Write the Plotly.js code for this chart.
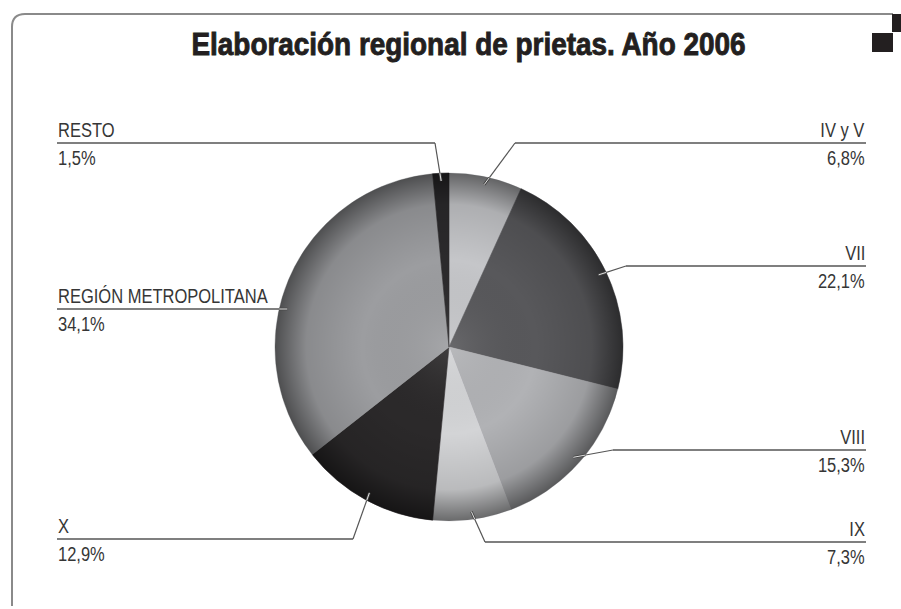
<!DOCTYPE html>
<html>
<head>
<meta charset="utf-8">
<script src="https://cdn.plot.ly/plotly-3.0.1.min.js"></script>
<style>
  html, body { margin: 0; padding: 0; background: #ffffff; }
  #chart { width: 901px; height: 609px; }
</style>
</head>
<body>
<div id="chart"></div>
<script>
// ---- Data ----
const regions = ['IV y V', 'VII', 'VIII', 'IX', 'X', 'REGIÓN METROPOLITANA', 'RESTO'];
const shares = [6.8, 22.1, 15.3, 7.3, 12.9, 34.1, 1.5];
const sliceColors = ['#c5c6c9', '#58585b', '#b1b2b5', '#d3d4d6', '#2b292a', '#9c9da0', '#2b2a2c'];
const titleText = 'Elaboración regional de prietas. Año 2006';

// ---- Layout geometry (pixels) ----
const W = 901, H = 609;
const CX = 449, CY = 347, R = 174;
// label placement: side, y of underline, elbow x (null = straight horizontal to pie)
const labelLayout = [
  { side: 'right', lineY: 143, elbowX: 515 },
  { side: 'right', lineY: 266, elbowX: 626 },
  { side: 'right', lineY: 450, elbowX: 613 },
  { side: 'right', lineY: 542, elbowX: 485 },
  { side: 'left',  lineY: 539, elbowX: 353 },
  { side: 'left',  lineY: 309, elbowX: null },
  { side: 'left',  lineY: 143, elbowX: 435 }
];
const LEFT_X = 57, RIGHT_X = 866;
const LABEL_FONT = 'Liberation Sans, Arial, sans-serif';
const LABEL_SQUEEZE = 0.825;
const TITLE_SQUEEZE = 0.90;

const px = x => x / W;
const py = y => 1 - y / H;

const total = shares.reduce((a, b) => a + b, 0);
const fmt = v => v.toFixed(1).replace('.', ',') + '%';

const shapes = [];
const annotations = [];

// frame
shapes.push({
  type: 'path', xref: 'paper', yref: 'paper',
  path: `M ${px(12)},${py(606)} L ${px(12)},${py(27)} Q ${px(12)},${py(14)} ${px(25)},${py(14)} L ${px(893)},${py(14)}`,
  line: { color: '#8a8a8a', width: 2 }
});
// corner squares
shapes.push({ type: 'rect', xref: 'paper', yref: 'paper', x0: px(892), x1: px(901), y0: py(32), y1: py(14), fillcolor: '#231f20', line: { width: 0 } });
shapes.push({ type: 'rect', xref: 'paper', yref: 'paper', x0: px(872), x1: px(893), y0: py(52), y1: py(33), fillcolor: '#231f20', line: { width: 0 } });

// leader lines and labels
let cum = 0;
shares.forEach((v, i) => {
  const mid = (cum + v / 2) / total * 2 * Math.PI;
  cum += v;
  const L = labelLayout[i];
  let ex, ey, edgeX, edgeY;
  if (L.elbowX === null) {
    const dy = L.lineY - CY;
    const rr = R * 0.955;
    ex = CX - Math.sqrt(rr * rr - dy * dy);
    ey = L.lineY;
    edgeX = CX - Math.sqrt(R * R - dy * dy);
    edgeY = L.lineY;
  } else {
    ex = CX + R * 0.955 * Math.sin(mid);
    ey = CY - R * 0.955 * Math.cos(mid);
    const dxl = ex - L.elbowX, dyl = ey - L.lineY;
    let t0 = 0, t1 = 1;
    for (let k = 0; k < 40; k++) {
      const t = (t0 + t1) / 2;
      const qx = L.elbowX + dxl * t - CX, qy = L.lineY + dyl * t - CY;
      if (qx * qx + qy * qy > R * R) t0 = t; else t1 = t;
    }
    edgeX = L.elbowX + dxl * t1; edgeY = L.lineY + dyl * t1;
  }
  const startX = L.side === 'left' ? LEFT_X : RIGHT_X;
  const elbowX = L.elbowX === null ? ex : L.elbowX;
  const lineColor = '#555555';
  shapes.push({ type: 'line', xref: 'paper', yref: 'paper', x0: px(startX), y0: py(L.lineY), x1: px(elbowX), y1: py(L.lineY), line: { color: lineColor, width: 1.5 } });
  if (L.elbowX !== null) {
    shapes.push({ type: 'line', xref: 'paper', yref: 'paper', x0: px(elbowX), y0: py(L.lineY), x1: px(ex), y1: py(ey), line: { color: lineColor, width: 1.2 } });
  }
  shapes.push({ type: 'line', xref: 'paper', yref: 'paper', x0: px(edgeX), y0: py(edgeY), x1: px(ex), y1: py(ey), line: { color: '#444444', width: 2.6 } });
  shapes.push({ type: 'line', xref: 'paper', yref: 'paper', x0: px(edgeX), y0: py(edgeY), x1: px(ex), y1: py(ey), line: { color: '#f2f2f2', width: 0.9 } });

  const anchor = L.side === 'left' ? 'left' : 'right';
  annotations.push({
    xref: 'paper', yref: 'paper', x: px(startX), y: py(L.lineY - 1),
    xanchor: anchor, yanchor: 'bottom', align: anchor,
    text: regions[i], showarrow: false, borderpad: 0,
    font: { family: LABEL_FONT, size: 20, color: '#363636' }
  });
  annotations.push({
    xref: 'paper', yref: 'paper', x: px(startX), y: py(L.lineY + 3),
    xanchor: anchor, yanchor: 'top', align: anchor,
    text: fmt(v), showarrow: false, borderpad: 0,
    font: { family: LABEL_FONT, size: 20, color: '#363636' }
  });
});

// shading overlay for the pie
const gradSvg = '<svg xmlns="http://www.w3.org/2000/svg" width="200" height="200"><defs><radialGradient id="g" cx="0.5" cy="0.5" r="0.5">' +
  '<stop offset="0" stop-color="#ffffff" stop-opacity="0.10"/>' +
  '<stop offset="0.5" stop-color="#000000" stop-opacity="0"/>' +
  '<stop offset="0.82" stop-color="#000000" stop-opacity="0.12"/>' +
  '<stop offset="1" stop-color="#000000" stop-opacity="0.50"/>' +
  '</radialGradient></defs><circle cx="100" cy="100" r="100" fill="url(#g)"/></svg>';

const trace = {
  type: 'pie',
  labels: regions,
  values: shares,
  sort: false,
  direction: 'clockwise',
  rotation: 0,
  textinfo: 'none',
  hoverinfo: 'label+percent',
  showlegend: false,
  marker: { colors: sliceColors, line: { color: sliceColors, width: 0.6 } },
  domain: { x: [px(CX - R), px(CX + R)], y: [py(CY + R), py(CY - R)] }
};

const layout = {
  width: W, height: H,
  margin: { l: 0, r: 0, t: 0, b: 0 },
  paper_bgcolor: '#ffffff',
  plot_bgcolor: '#ffffff',
  title: {
    text: titleText,
    x: 468.5 / W, xanchor: 'center', xref: 'paper',
    y: py(33), yanchor: 'top', yref: 'paper',
    font: { family: LABEL_FONT, size: 31, weight: 'bold', color: '#231f20' }
  },
  shapes: shapes,
  annotations: annotations,
  images: [{
    source: 'data:image/svg+xml;charset=utf-8,' + encodeURIComponent(gradSvg),
    xref: 'paper', yref: 'paper',
    x: px(CX - R), y: py(CY - R), sizex: 2 * R / W, sizey: 2 * R / H,
    xanchor: 'left', yanchor: 'top', sizing: 'stretch', layer: 'above', opacity: 1
  }]
};

function squeeze(el, factor) {
  const len = el.getComputedTextLength();
  if (len > 0) {
    el.setAttribute('textLength', (len * factor).toFixed(2));
    el.setAttribute('lengthAdjust', 'spacingAndGlyphs');
  }
}

Plotly.newPlot('chart', [trace], layout, { displayModeBar: false, staticPlot: true }).then(gd => {
  gd.querySelectorAll('text.annotation-text').forEach(t => squeeze(t, LABEL_SQUEEZE));
  gd.querySelectorAll('text.gtitle').forEach(t => {
    squeeze(t, TITLE_SQUEEZE);
    t.style.stroke = '#231f20';
    t.style.strokeWidth = '0.9px';
  });
});
</script>
</body>
</html>
